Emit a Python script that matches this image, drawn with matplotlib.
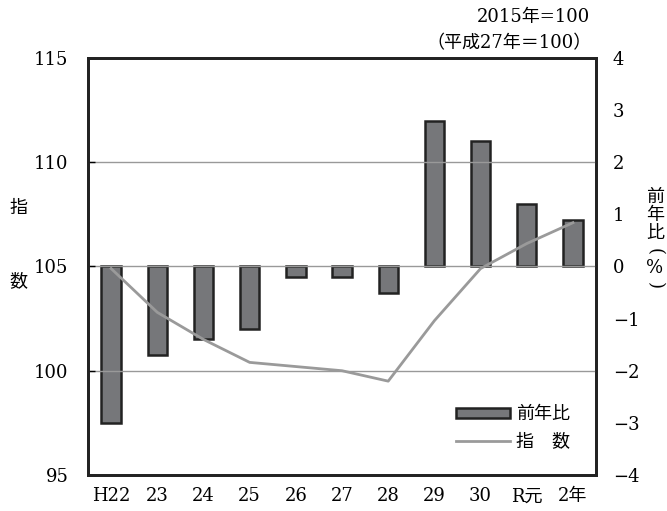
import matplotlib
matplotlib.use("Agg")
import matplotlib.pyplot as plt
from matplotlib.patches import Patch
from matplotlib.lines import Line2D

plt.rcParams['font.family'] = ['DejaVu Serif', 'Noto Sans CJK JP']
plt.rcParams['axes.unicode_minus'] = True

categories = ["H22", "23", "24", "25", "26", "27", "28", "29", "30", "R元", "2年"]
yoy_pct = [-3.0, -1.7, -1.4, -1.2, -0.2, -0.2, -0.5, 2.8, 2.4, 1.2, 0.9]
index_vals = [104.9, 102.8, 101.5, 100.4, 100.2, 100.0, 99.5, 102.4, 104.9, 106.1, 107.1]
left_ticks = [95, 100, 105, 110, 115]
right_ticks = [-4, -3, -2, -1, 0, 1, 2, 3, 4]

fig = plt.figure(figsize=(6.67, 5.11), dpi=100)
ax = fig.add_axes([0.132, 0.0705, 0.7616, 0.816])
ax2 = ax.twinx()

x = list(range(len(categories)))
fs = 13

for g in [100, 105, 110]:
    ax.axhline(g, color="#999999", lw=1.0, zorder=1)

ax2.bar(x, yoy_pct, width=0.42, color="#76777a", edgecolor="#222222", linewidth=1.8, zorder=3)
ax.plot(x, index_vals, color="#9a9a9a", lw=2.0, zorder=5)

ax.set_zorder(ax2.get_zorder() + 1)
ax.patch.set_visible(False)

ax.set_xlim(-0.5, len(categories) - 0.5)
ax.set_ylim(95, 115)
ax2.set_ylim(-4, 4)
ax.set_yticks(left_ticks)
ax2.set_yticks(right_ticks)
ax.set_xticks(x)
ax.set_xticklabels(categories, fontsize=fs)
ax.tick_params(axis='y', direction='in', length=5, width=1, labelsize=fs, pad=14)
ax.tick_params(axis='x', length=0, labelsize=fs, pad=9)
ax2.tick_params(axis='y', length=0, labelsize=fs, pad=12)

for a in (ax, ax2):
    for s in a.spines.values():
        s.set_linewidth(2.0)
        s.set_color("#222222")

fig.text(18 / 667, 1 - 208 / 511, "指", fontsize=13, ha='center', va='center')
fig.text(18 / 667, 1 - 281 / 511, "数", fontsize=13, ha='center', va='center')
rx = 655 / 667
for ch, yy, rot in [("前", 197, 0), ("年", 215, 0), ("比", 233, 0),
                    ("(", 252, -90), ("%", 268, 0), (")", 285, -90)]:
    fig.text(rx, 1 - yy / 511, ch, fontsize=13, ha='center', va='center', rotation=rot)

fig.text(590 / 667, 1 - 17 / 511, "2015年=100", fontsize=fs, ha='right', va='center')
fig.text(592 / 667, 1 - 43 / 511, "（平成27年＝100）", fontsize=fs, ha='right', va='center')

handles = [Patch(facecolor="#76777a", edgecolor="#222222", linewidth=1.8),
           Line2D([0], [0], color="#9a9a9a", lw=2.0)]
ax.legend(handles, ["前年比", "指　数"], loc='lower right', bbox_to_anchor=(0.98, 0.02),
          frameon=False, fontsize=13, handlelength=3.0, handleheight=0.5,
          handletextpad=0.3, labelspacing=0.5)

fig.savefig("out.png", dpi=100)
